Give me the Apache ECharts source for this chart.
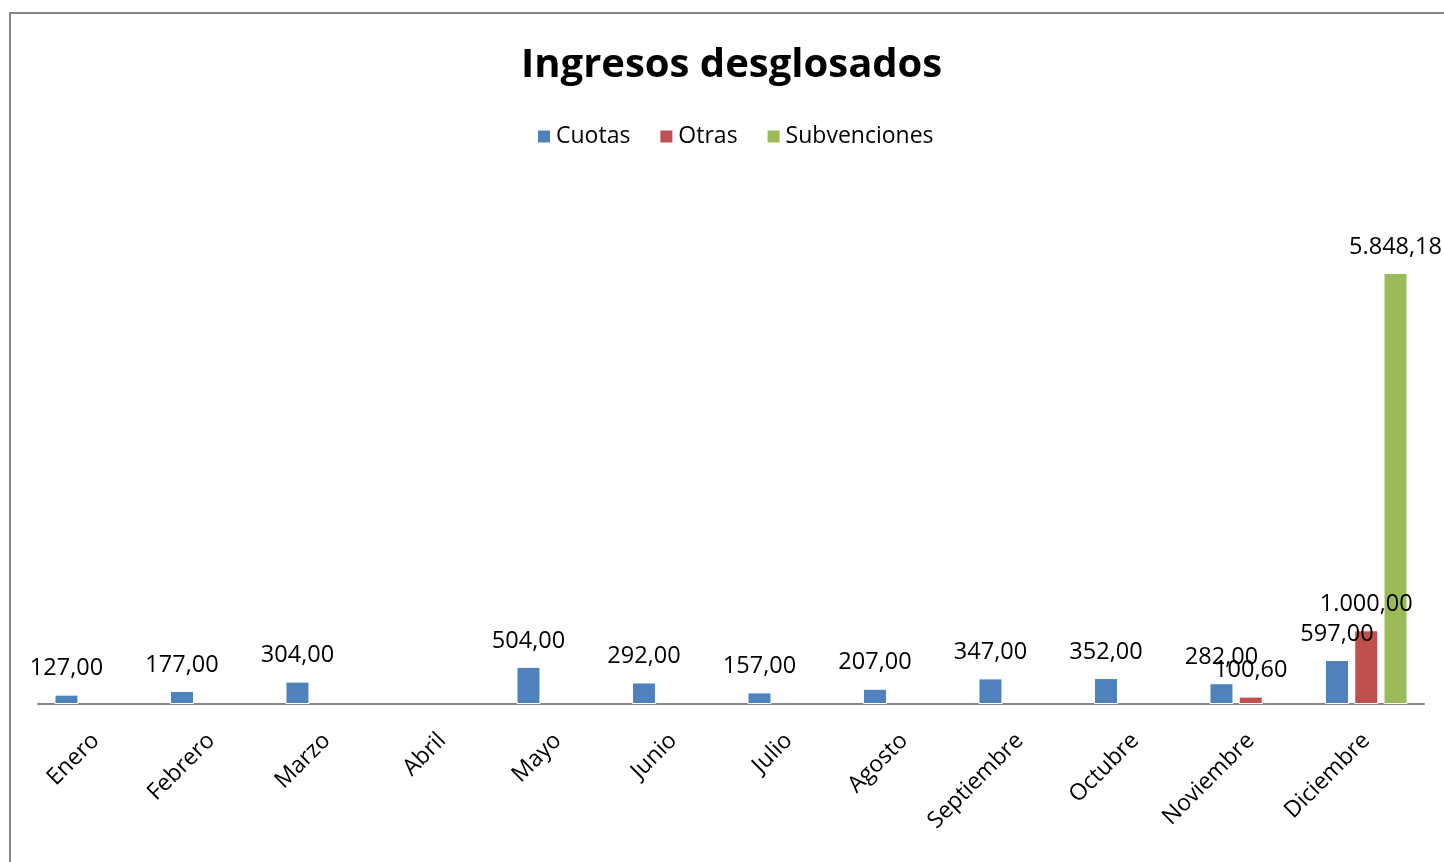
<!DOCTYPE html>
<html><head><meta charset="utf-8">
<script src="https://cdn.jsdelivr.net/npm/echarts@6/dist/echarts.min.js"></script>
<style>html,body{margin:0;padding:0;background:#fff}#c{width:1444px;height:862px}</style>
</head><body><div id="c"></div>
<script>
const categories = ['Enero','Febrero','Marzo','Abril','Mayo','Junio','Julio','Agosto','Septiembre','Octubre','Noviembre','Diciembre'];
const cuotas = [127, 177, 304, null, 504, 292, 157, 207, 347, 352, 282, 597];
const otras = [null, null, null, null, null, null, null, null, null, null, 100.60, 1000];
const subvenciones = [null, null, null, null, null, null, null, null, null, null, null, 5848.18];
const seriesNames = ['Cuotas', 'Otras', 'Subvenciones'];
const colors = ['#4F81BD', '#C0504D', '#9BBB59'];

function fmt(v) {
  const parts = v.toFixed(2).split('.');
  const intPart = parts[0].replace(/\B(?=(\d{3})+(?!\d))/g, '.');
  return intPart + ',' + parts[1];
}
const FONT = 'Open Sans';
const chart = echarts.init(document.getElementById('c'));
const mk = (name, data, color) => ({
  name, type: 'bar', data, barWidth: 24, barGap: '22%',
  itemStyle: { color, borderColor: '#fff', borderWidth: 1 },
  label: { show: true, position: 'top', distance: 14, color: '#000', fontFamily: FONT, fontSize: 23.5,
    formatter: p => p.value == null ? '' : fmt(p.value) }
});
chart.setOption({
  animation: false,
  textStyle: { fontFamily: FONT },
  title: { text: 'Ingresos desglosados', left: 516, top: 41,
    textStyle: { fontFamily: FONT, fontWeight: 'bold', fontSize: 40, color: '#000' } },
  legend: { top: 120, left: 531, itemWidth: 14, itemHeight: 14, itemGap: 28,
    icon: 'rect', textStyle: { fontFamily: FONT, fontSize: 23, color: '#000' },
    data: seriesNames },
  graphic: [{ type: 'rect', shape: { x: 10, y: 13, width: 1500, height: 900 },
    style: { fill: 'none', stroke: '#868686', lineWidth: 2 }, silent: true }],
  grid: { left: 38, right: 20, top: 188, bottom: 158 },
  xAxis: { type: 'category', data: categories,
    axisLine: { lineStyle: { color: '#868686', width: 2 } }, axisTick: { show: false },
    axisLabel: { rotate: 45, margin: 33, color: '#000', fontFamily: FONT, fontSize: 23, interval: 0 } },
  yAxis: { type: 'value', min: 0, max: 7000, interval: 1000, show: false },
  series: [mk(seriesNames[0], cuotas, colors[0]), mk(seriesNames[1], otras, colors[1]), mk(seriesNames[2], subvenciones, colors[2])]
});
</script></body></html>
